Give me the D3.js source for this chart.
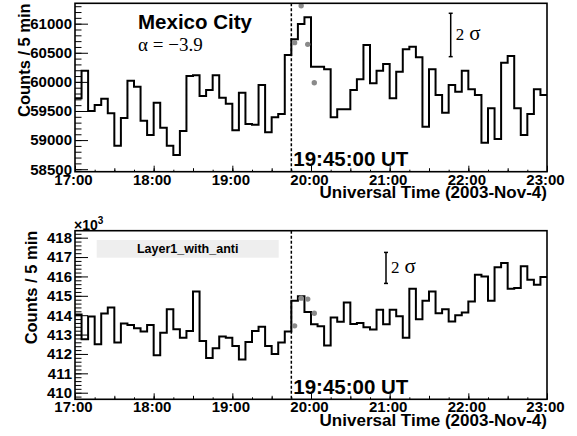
<!DOCTYPE html>
<html>
<head>
<meta charset="utf-8">
<script src="https://cdn.jsdelivr.net/npm/d3@7"></script>
<style>
  body { margin: 0; background: #fff; }
  svg text { font-family: "Liberation Sans", Arial, Helvetica, sans-serif; font-weight: bold; fill: #000; }
  svg text.serif { font-family: "Liberation Serif", "Times New Roman", serif; font-weight: normal; }
</style>
</head>
<body>
<svg id="chart" width="577" height="436"></svg>
<script>
// ---- data (5 minute bins from 17:00 to 23:00 UT, 2003-Nov-4) ----
const binMinutes = 5;
const startTime = "17:00:00";
const endTime = "23:00:00";
const eventTime = "19:45:00";

// Mexico City counts / 5 min
const mexicoCounts = [
  59717, 60193, 59500, 59603, 59711, 59459, 58904, 59379, 60021, 59918,
  59333, 59087, 59643, 59213, 58904, 58744, 59156, 60101, 60112, 59757,
  59860, 60112, 59729, 59626, 59167, 59815, 59276, 59265, 59946, 59133,
  59391, 59448, 60462, 60731, 60994, 61109, 60261, 60261, 60215, 59391,
  59528, 59528, 59860, 60044, 60633, 59975, 60193, 60307, 59717, 60175,
  60559, 60605, 60422, 59230, 60215, 59774, 59471, 59946, 59832, 60193,
  59872, 59774, 58955, 59545, 59018, 60330, 60444, 59545, 59087, 59448,
  59872, 59774
];
const mexicoDotTimes = ["19:47:30", "19:52:30", "19:57:30", "20:02:30"];
const mexicoDotValues = [60674, 61309, 60645, 59986];

// Layer1_with_anti counts / 5 min
const layerCounts = [
  414030, 412760, 413930, 412500, 414090, 414400, 412590, 413570, 413500, 413330,
  413160, 413500, 411930, 413100, 414310, 413280, 412840, 413190, 415220, 412670,
  411790, 412290, 412900, 412840, 412410, 411720, 412620, 413190, 413410, 412410,
  412000, 412590, 413160, 414740, 414980, 414160, 413530, 413430, 412430, 413880,
  413660, 414660, 413550, 413600, 413380, 413260, 414280, 413530, 414280, 413950,
  412840, 415360, 413790, 414740, 415220, 414100, 414310, 413670, 414000, 414140,
  414710, 416090, 416000, 414740, 416480, 416690, 415360, 415400, 416530, 415830,
  415570, 415970
];
const layerDotTimes = ["19:47:30", "19:52:30", "19:57:30", "20:02:30"];
const layerDotValues = [413450, 414880, 414830, 414100];

// 2 sigma markers: [centre value, full length]
const mexicoSigmaBar = [60806, 745];
const layerSigmaBar = [416440, 1600];

const xTickHours = ["17:00", "18:00", "19:00", "20:00", "21:00", "22:00", "23:00"];

// ---- helpers ----
const parseT = s => d3.utcParse("%Y-%m-%d %H:%M:%S")("2003-11-04 " + (s.length == 5 ? s + ":00" : s));

const svg = d3.select("#chart");
const left = 75, right = 547;

const x = d3.scaleUtc()
    .domain([parseT(startTime), parseT(endTime)])
    .range([left, right]);

function drawPanel(p) {
    let g = svg.append("g");
    let y = d3.scaleLinear().domain(p.yDomain).range([p.bottom, p.top]);

    //Minor + major y ticks (inside the frame)
    let yMinor = d3.range(p.minorStart, p.yDomain[1], p.minorStep);
    g.append("g")
        .attr("transform", "translate(" + left + ",0)")
        .call(d3.axisLeft(y).tickValues(yMinor).tickSize(-6.5).tickFormat(""))
        .call(a => a.select(".domain").remove());
    g.append("g")
        .attr("transform", "translate(" + left + ",0)")
        .call(d3.axisLeft(y).tickValues(p.majors).tickSize(-13).tickPadding(3).tickFormat(p.fmt))
        .call(a => a.select(".domain").remove())
        .call(a => a.selectAll("text").attr("font-size", 15).attr("font-family", null));

    //x ticks: hours, half hours, quarters
    let quarters = d3.utcMinute.every(15).range(x.domain()[0], x.domain()[1]);
    let halves = d3.utcMinute.every(30).range(x.domain()[0], x.domain()[1]);
    g.append("g")
        .attr("transform", "translate(0," + p.bottom + ")")
        .call(d3.axisBottom(x).tickValues(quarters).tickSize(-2).tickFormat(""))
        .call(a => a.select(".domain").remove());
    g.append("g")
        .attr("transform", "translate(0," + p.bottom + ")")
        .call(d3.axisBottom(x).tickValues(halves).tickSize(-3.5).tickFormat(""))
        .call(a => a.select(".domain").remove());
    g.append("g")
        .attr("transform", "translate(0," + p.bottom + ")")
        .call(d3.axisBottom(x).tickValues(xTickHours.map(parseT)).tickSize(-6).tickPadding(p.xPad)
            .tickFormat(d3.utcFormat("%H:%M")))
        .call(a => a.select(".domain").remove())
        .call(a => a.selectAll("text").attr("font-size", 15).attr("font-family", null).attr("dx", -2));

    //legend box (bottom panel only)
    if (p.legend) {
        g.append("rect")
            .attr("x", 96.7).attr("y", p.top + 9.3)
            .attr("width", 182).attr("height", 17.7)
            .attr("fill", "#eeeeee");
        g.append("text")
            .attr("x", 187.7).attr("y", p.top + 22)
            .attr("text-anchor", "middle")
            .attr("font-size", 12.5)
            .text(p.legend);
    }

    //histogram as steps
    let pts = p.counts.map((c, i) => [d3.utcMinute.offset(x.domain()[0], i * binMinutes), c]);
    pts.push([x.domain()[1], p.counts[p.counts.length - 1]]);
    g.append("path")
        .datum(pts)
        .attr("fill", "none")
        .attr("stroke", "#000")
        .attr("stroke-width", 2)
        .attr("d", d3.line().x(d => x(d[0])).y(d => y(d[1])).curve(d3.curveStepAfter));

    //event line
    g.append("line")
        .attr("x1", x(parseT(eventTime))).attr("x2", x(parseT(eventTime)))
        .attr("y1", p.top).attr("y2", p.bottom)
        .attr("stroke", "#000").attr("stroke-width", 1.5)
        .attr("stroke-dasharray", "3,2");

    //grey points
    g.selectAll("circle")
        .data(p.dotTimes.map((t, i) => [parseT(t), p.dotValues[i]]))
        .join("circle")
        .attr("cx", d => x(d[0]))
        .attr("cy", d => y(d[1]))
        .attr("r", 2.7)
        .attr("fill", "#8a8a8a");

    //2 sigma bar
    let s = p.sigma;
    let y1 = y(s[0] + s[1] / 2), y2 = y(s[0] - s[1] / 2);
    let sg = g.append("g").attr("stroke", "#000").attr("stroke-width", 1.5);
    sg.append("line").attr("x1", p.sigmaX).attr("x2", p.sigmaX).attr("y1", y1).attr("y2", y2);
    sg.append("line").attr("x1", p.sigmaX - 2).attr("x2", p.sigmaX + 2).attr("y1", y1).attr("y2", y1);
    sg.append("line").attr("x1", p.sigmaX - 2).attr("x2", p.sigmaX + 2).attr("y1", y2).attr("y2", y2);
    let st = g.append("text").attr("class", "serif")
        .attr("x", p.sigmaX + 5).attr("y", (y1 + y2) / 2 + 5)
        .attr("font-size", 17);
    st.append("tspan").text("2");
    st.append("tspan").attr("dx", 5).attr("font-size", 21).text("σ");

    //event label
    g.append("text")
        .attr("x", 293.3).attr("y", p.bottom - 5.5)
        .attr("font-size", 20.5)
        .text(eventTime + " UT");

    //frame
    g.append("rect")
        .attr("x", left).attr("y", p.top)
        .attr("width", right - left).attr("height", p.bottom - p.top)
        .attr("fill", "none").attr("stroke", "#000").attr("stroke-width", 1.6);

    //axis titles
    g.append("text")
        .attr("transform", "translate(" + p.yTitleX + "," + p.top + ") rotate(-90)")
        .attr("text-anchor", "end")
        .attr("font-size", 16.5)
        .text("Counts / 5 min");
    g.append("text")
        .attr("x", right).attr("y", p.bottom + 26.5)
        .attr("text-anchor", "end")
        .attr("font-size", 17)
        .text("Universal Time (2003-Nov-4)");

    return g;
}

// top panel: Mexico City
let topPanel = drawPanel({
    top: 3.3, bottom: 171.7,
    yDomain: [58457, 61350],
    majors: d3.range(58500, 61001, 500),
    minorStart: 58500, minorStep: 100,
    fmt: d3.format("d"),
    counts: mexicoCounts,
    dotTimes: mexicoDotTimes, dotValues: mexicoDotValues,
    sigma: mexicoSigmaBar, sigmaX: 450.7,
    yTitleX: 30, xPad: 3
});
topPanel.append("text")
    .attr("x", 138).attr("y", 29.3)
    .attr("font-size", 20.5)
    .text("Mexico City");
topPanel.append("text").attr("class", "serif")
    .attr("x", 138).attr("y", 50.5)
    .attr("font-size", 19)
    .text("α = −3.9");

// bottom panel: Layer1_with_anti
let botPanel = drawPanel({
    top: 230.7, bottom: 399.3,
    yDomain: [409660, 418360],
    majors: d3.range(410000, 418001, 1000),
    minorStart: 409800, minorStep: 200,
    fmt: d => d / 1000,
    counts: layerCounts,
    dotTimes: layerDotTimes, dotValues: layerDotValues,
    sigma: layerSigmaBar, sigmaX: 386,
    yTitleX: 37, xPad: 2.5,
    legend: "Layer1_with_anti"
});
let mult = botPanel.append("text")
    .attr("x", 74).attr("y", 229.5)
    .attr("font-size", 14);
mult.append("tspan").text("×10");
mult.append("tspan").attr("dy", -6).attr("font-size", 10).text("3");
</script>
</body>
</html>
